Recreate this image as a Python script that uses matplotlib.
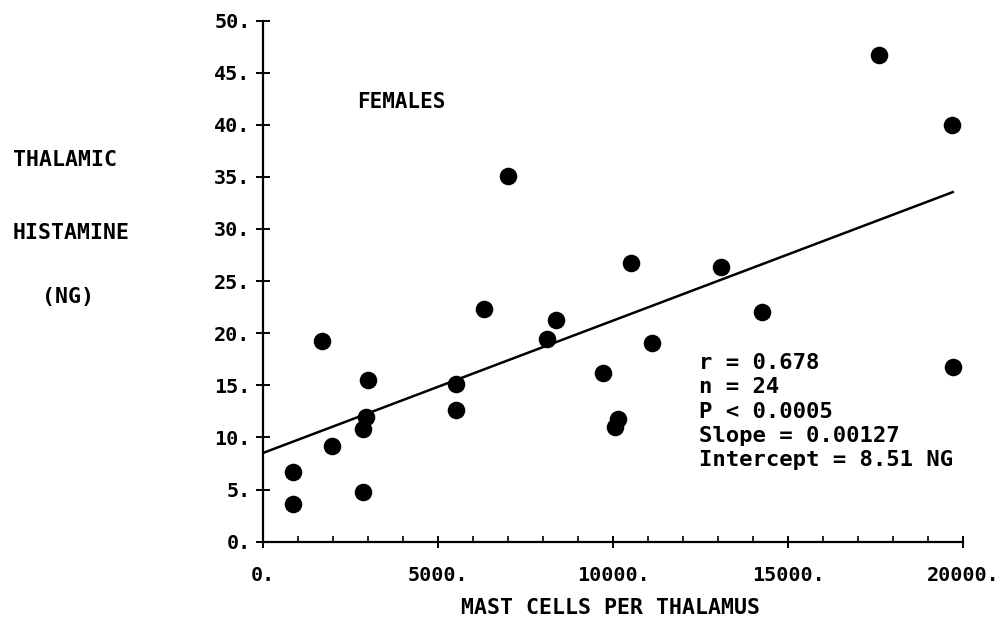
import matplotlib
matplotlib.use("Agg")
import matplotlib.pyplot as plt
from matplotlib.ticker import MultipleLocator, FixedLocator
import numpy as np

# Data
mast_cells = [849, 866, 1694, 1980, 2849, 2849, 2934, 3000, 5506, 5523,
              6314, 7000, 8371, 8123, 10506, 13077, 11123, 9714, 10151, 10057,
              17609, 19677, 14257, 19706]
histamine = [3.6, 6.7, 19.3, 9.2, 4.8, 10.8, 12.0, 15.5, 15.1, 12.6,
             22.3, 35.1, 21.3, 19.4, 26.7, 26.4, 19.1, 16.2, 11.8, 11.0,
             46.7, 40.0, 22.0, 16.8]
slope = 0.00127
intercept = 8.51
x_ticks = [0, 5000, 10000, 15000, 20000]
y_ticks = [0, 5, 10, 15, 20, 25, 30, 35, 40, 45, 50]
stats_lines = ["r = 0.678", "n = 24", "P < 0.0005", "Slope = 0.00127",
               "Intercept = 8.51 NG"]

W, H = 1005, 621
FONT = "DejaVu Sans Mono"
plt.rcParams['font.family'] = FONT
plt.rcParams['font.weight'] = 'bold'

fig = plt.figure(figsize=(W / 100, H / 100), dpi=100)
ax = fig.add_axes([263 / W, 1 - 541.7 / H, 700 / W, (541.7 - 20.5) / H])

ax.set_xlim(0, 20000)
ax.set_ylim(0, 50)

ax.scatter(mast_cells, histamine, s=160, color="black", zorder=3, clip_on=False,
           linewidths=0)
xl = np.array([0, max(mast_cells)])
ax.plot(xl, slope * xl + intercept, color="black", lw=1.8)

for s in ["top", "right"]:
    ax.spines[s].set_visible(False)
for s in ["left", "bottom"]:
    ax.spines[s].set_linewidth(1.6)

ax.xaxis.set_major_locator(FixedLocator(x_ticks))
ax.xaxis.set_minor_locator(MultipleLocator(1000))
ax.yaxis.set_major_locator(FixedLocator(y_ticks))
ax.set_xticklabels([f"{v}." for v in x_ticks], fontweight="bold")
ax.set_yticklabels([f"{v}." for v in y_ticks], fontweight="bold")

ax.tick_params(axis="x", which="major", direction="inout", length=9, width=1.4,
               pad=13, labelsize=14.5)
ax.tick_params(axis="x", which="minor", direction="in", length=4, width=1.2)
ax.tick_params(axis="y", which="major", direction="inout", length=10, width=1.4,
               pad=4, labelsize=14.5)

ax.text(2700, 42.2, "FEMALES", fontsize=15, va="center", ha="left",
        fontweight="bold")

y0 = 17.11
for i, line in enumerate(stats_lines):
    ax.text(12457, y0 - i * 2.31, line, fontsize=16, va="center", ha="left",
            fontweight="bold")

def ftext(px, py, s, **kw):
    fig.text(px / W, 1 - py / H, s, fontweight="bold", **kw)

ftext(13, 160, "THALAMIC", fontsize=15.5, va="center", ha="left")
ftext(13, 233, "HISTAMINE", fontsize=15.5, va="center", ha="left")
ftext(42, 297, "(NG)", fontsize=15.5, va="center", ha="left")
ftext(610, 608, "MAST CELLS PER THALAMUS", fontsize=15.5, va="center", ha="center")

fig.savefig("out.png", dpi=100, facecolor="white")
